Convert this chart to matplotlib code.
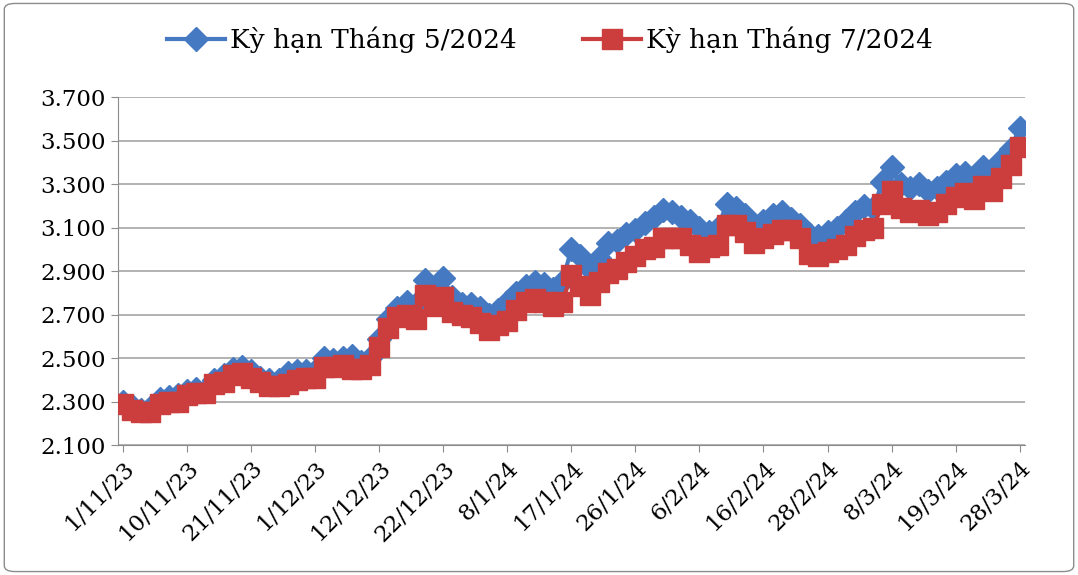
import matplotlib
matplotlib.use("Agg")
import matplotlib.pyplot as plt
from matplotlib.patches import FancyBboxPatch
from matplotlib.ticker import FuncFormatter

# Price series (thousands), one value per trading day, 1/11/23 .. 28/3/24
may_2024 = [2.30, 2.28, 2.26, 2.27, 2.31, 2.32, 2.33, 2.35, 2.36, 2.35,
            2.40, 2.42, 2.45, 2.46, 2.44, 2.41, 2.40, 2.40, 2.43, 2.44,
            2.44, 2.44, 2.50, 2.49, 2.50, 2.51, 2.48, 2.50, 2.59, 2.68,
            2.73, 2.76, 2.75, 2.86, 2.81, 2.87, 2.78, 2.75, 2.75, 2.73,
            2.70, 2.72, 2.76, 2.80, 2.83, 2.85, 2.84, 2.82, 2.85, 3.00,
            2.97, 2.91, 2.96, 3.03, 3.04, 3.07, 3.09, 3.12, 3.15, 3.18,
            3.17, 3.15, 3.13, 3.10, 3.08, 3.10, 3.21, 3.19, 3.16, 3.11,
            3.13, 3.16, 3.17, 3.14, 3.11, 3.07, 3.06, 3.08, 3.10, 3.13,
            3.17, 3.20, 3.19, 3.31, 3.38, 3.30, 3.28, 3.30, 3.27, 3.28,
            3.31, 3.34, 3.35, 3.33, 3.38, 3.36, 3.41, 3.46, 3.56]

jul_2024 = [2.29, 2.26, 2.25, 2.25, 2.29, 2.30, 2.30, 2.33, 2.34, 2.34,
            2.38, 2.39, 2.42, 2.43, 2.41, 2.39, 2.37, 2.37, 2.38, 2.40,
            2.41, 2.41, 2.46, 2.46, 2.47, 2.45, 2.45, 2.47, 2.55, 2.64,
            2.69, 2.70, 2.68, 2.79, 2.74, 2.78, 2.71, 2.70, 2.69, 2.66,
            2.63, 2.65, 2.67, 2.72, 2.76, 2.77, 2.76, 2.74, 2.76, 2.88,
            2.83, 2.79, 2.85, 2.89, 2.91, 2.94, 2.97, 3.00, 3.01, 3.05,
            3.05, 3.05, 3.02, 2.99, 3.01, 3.02, 3.11, 3.11, 3.08, 3.03,
            3.05, 3.07, 3.09, 3.09, 3.05, 2.98, 2.97, 2.99, 3.00, 3.02,
            3.06, 3.09, 3.10, 3.21, 3.27, 3.19, 3.17, 3.18, 3.16, 3.17,
            3.21, 3.24, 3.26, 3.23, 3.29, 3.27, 3.33, 3.39, 3.47]

tick_labels = ["1/11/23", "10/11/23", "21/11/23", "1/12/23", "12/12/23",
               "22/12/23", "8/1/24", "17/1/24", "26/1/24", "6/2/24",
               "16/2/24", "28/2/24", "8/3/24", "19/3/24", "28/3/24"]
TICK_STEP = 7

x = list(range(len(may_2024)))

plt.rcParams['font.family'] = ['DejaVu Serif']

fig = plt.figure(figsize=(10.78, 5.75), dpi=100)
fig.patches.append(FancyBboxPatch((0.004, 0.006), 0.992, 0.988,
                                  boxstyle="round,pad=0,rounding_size=0.01",
                                  transform=fig.transFigure, fill=False,
                                  edgecolor="#8c8c8c", linewidth=1))
ax = fig.add_axes([0.109, 0.226, 0.842, 0.605])

ax.plot(x, may_2024, "-D", color="#4579c2", markersize=12, linewidth=3,
        label="Kỳ hạn Tháng 5/2024", zorder=2)
ax.plot(x, jul_2024, "-s", color="#cc3e3e", markersize=15, linewidth=3,
        label="Kỳ hạn Tháng 7/2024", zorder=3)

ax.set_ylim(2.1, 3.7)
ax.set_yticks([2.1 + 0.2 * i for i in range(9)])
ax.yaxis.set_major_formatter(FuncFormatter(lambda v, p: "%.3f" % v))
ax.set_xlim(-0.6, len(x) - 0.4)
ax.set_xticks(x[::TICK_STEP])
ax.set_xticklabels(tick_labels, rotation=45, ha="right",
                   rotation_mode="anchor")
ax.tick_params(labelsize=16.5, length=5, color="#8c8c8c")
ax.grid(axis="y", color="#a6a6a6", linewidth=1.2)
ax.set_axisbelow(True)
for side in ["top", "right"]:
    ax.spines[side].set_visible(False)
for side in ["left", "bottom"]:
    ax.spines[side].set_color("#8c8c8c")

fig.legend(loc="upper center", bbox_to_anchor=(0.51, 0.995), ncol=2,
           frameon=False, fontsize=19, handlelength=2.2, handletextpad=0.2,
           columnspacing=2.5)

fig.savefig("out.png", dpi=100)
